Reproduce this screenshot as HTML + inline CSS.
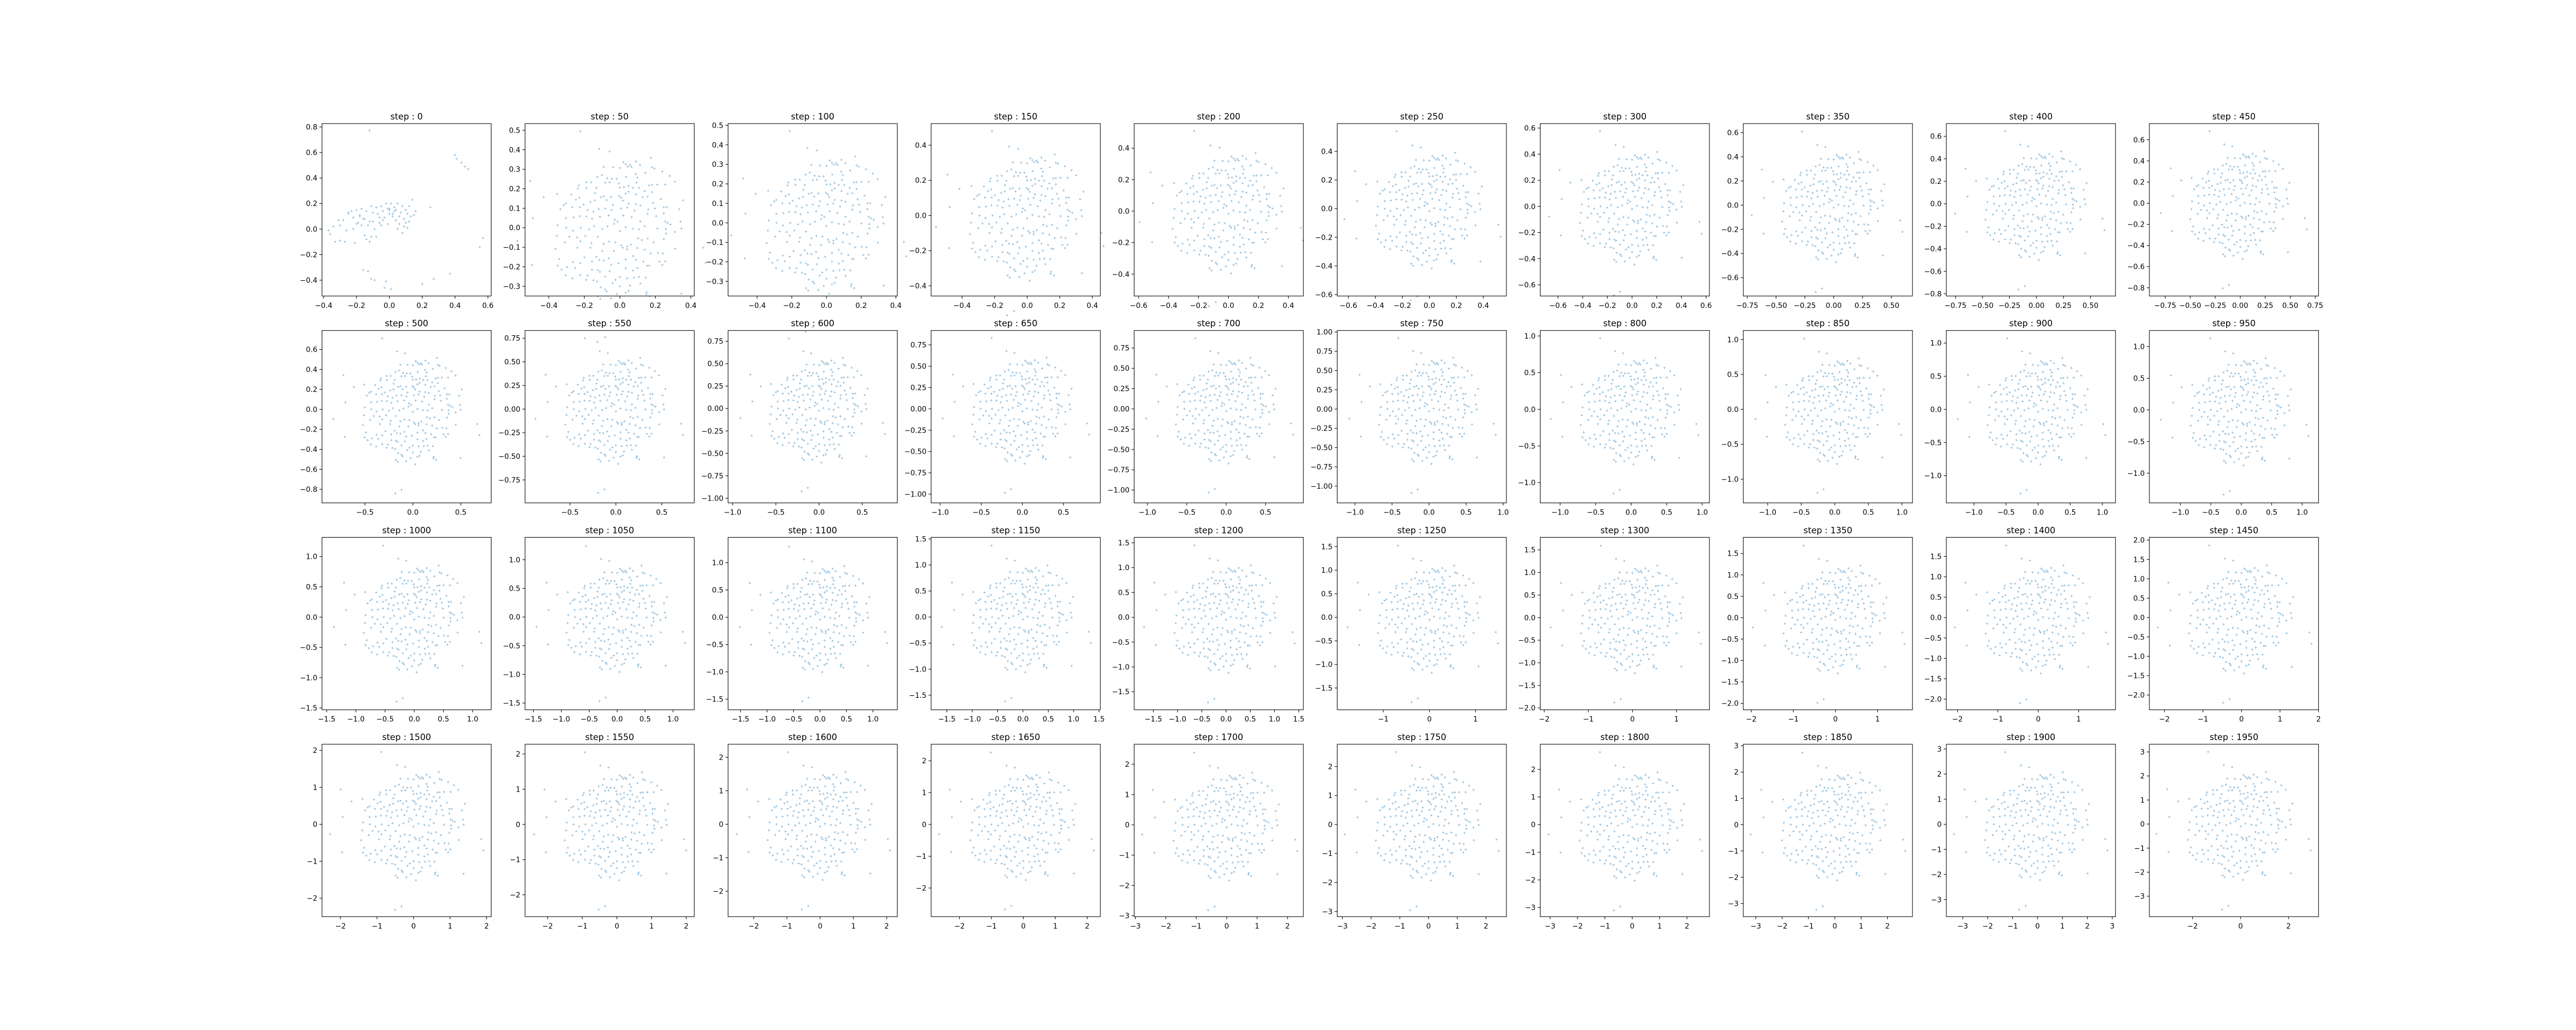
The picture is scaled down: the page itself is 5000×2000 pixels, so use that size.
<!DOCTYPE html>
<html><head><meta charset="utf-8"><style>
html,body{margin:0;padding:0;background:#fff;}
svg{display:block;font-family:"DejaVu Sans","Liberation Sans",sans-serif;}
</style></head><body>
<svg id="fig" width="5000" height="2000" viewBox="0 0 5000 2000" xmlns="http://www.w3.org/2000/svg">
<rect width="5000" height="2000" fill="#fff"/>
</svg>
<script>
const steps = [0,50,100,150,200,250,300,350,400,450,500,550,600,650,700,750,800,850,900,950,1000,1050,1100,1150,1200,1250,1300,1350,1400,1450,1500,1550,1600,1650,1700,1750,1800,1850,1900,1950];
const xlims = [[-0.41,0.62],[-0.534,0.419],[-0.567,0.408],[-0.59,0.449],[-0.63,0.5],[-0.683,0.571],[-0.744,0.627],[-0.784,0.683],[-0.835,0.732],[-0.908,0.783],
[-0.948,0.817],[-0.989,0.853],[-1.053,0.905],[-1.11,0.948],[-1.168,0.979],[-1.24,1.044],[-1.28,1.102],[-1.363,1.157],[-1.43,1.205],[-1.51,1.27],
[-1.58,1.317],[-1.65,1.38],[-1.736,1.46],[-1.81,1.526],[-1.896,1.595],[-2.0,1.67],[-2.09,1.746],[-2.19,1.83],[-2.277,1.914],[-2.39,2.0],
[-2.507,2.127],[-2.65,2.23],[-2.77,2.32],[-2.887,2.41],[-3.04,2.52],[-3.18,2.71],[-3.36,2.82],[-3.475,2.95],[-3.66,3.13],[-3.8,3.25]];
const ylims = [[-0.524,0.826],[-0.35,0.534],[-0.375,0.509],[-0.458,0.523],[-0.539,0.556],[-0.61,0.594],[-0.686,0.634],[-0.752,0.675],[-0.82,0.713],[-0.878,0.753],
[-0.936,0.79],[-0.993,0.832],[-1.052,0.87],[-1.103,0.919],[-1.158,0.966],[-1.218,1.02],[-1.276,1.075],[-1.34,1.13],[-1.41,1.19],[-1.47,1.255],
[-1.53,1.317],[-1.617,1.39],[-1.695,1.465],[-1.78,1.53],[-1.863,1.61],[-1.962,1.697],[-2.04,1.777],[-2.152,1.877],[-2.26,1.967],[-2.38,2.07],
[-2.5,2.167],[-2.62,2.278],[-2.76,2.39],[-2.9,2.52],[-3.03,2.66],[-3.18,2.77],[-3.33,2.91],[-3.5,3.06],[-3.68,3.19],[-3.85,3.32]];
// tick ranges: [start, stop, step, decimals]
const xtickSpec = [[-0.4,0.6,0.2,1],[-0.4,0.4,0.2,1],[-0.4,0.4,0.2,1],[-0.4,0.4,0.2,1],[-0.6,0.4,0.2,1],[-0.6,0.4,0.2,1],[-0.6,0.6,0.2,1],[-0.75,0.5,0.25,2],[-0.75,0.5,0.25,2],[-0.75,0.75,0.25,2],
[-0.5,0.5,0.5,1],[-0.5,0.5,0.5,1],[-1,0.5,0.5,1],[-1,0.5,0.5,1],[-1,0.5,0.5,1],[-1,1,0.5,1],[-1,1,0.5,1],[-1,1,0.5,1],[-1,1,0.5,1],[-1,1,0.5,1],
[-1.5,1,0.5,1],[-1.5,1,0.5,1],[-1.5,1,0.5,1],[-1.5,1.5,0.5,1],[-1.5,1.5,0.5,1],[-1,1,1,0],[-2,1,1,0],[-2,1,1,0],[-2,1,1,0],[-2,2,1,0],
[-2,2,1,0],[-2,2,1,0],[-2,2,1,0],[-2,2,1,0],[-3,2,1,0],[-3,2,1,0],[-3,2,1,0],[-3,2,1,0],[-3,3,1,0],[-2,2,2,0]];
const ytickSpec = [[-0.4,0.8,0.2,1],[-0.3,0.5,0.1,1],[-0.3,0.5,0.1,1],[-0.4,0.4,0.2,1],[-0.4,0.4,0.2,1],[-0.6,0.4,0.2,1],[-0.6,0.6,0.2,1],[-0.6,0.6,0.2,1],[-0.8,0.6,0.2,1],[-0.8,0.6,0.2,1],
[-0.8,0.6,0.2,1],[-0.75,0.75,0.25,2],[-1,0.75,0.25,2],[-1,0.75,0.25,2],[-1,0.75,0.25,2],[-1,1,0.25,2],[-1,1,0.5,1],[-1,1,0.5,1],[-1,1,0.5,1],[-1,1,0.5,1],
[-1.5,1,0.5,1],[-1.5,1,0.5,1],[-1.5,1,0.5,1],[-1.5,1.5,0.5,1],[-1.5,1.5,0.5,1],[-1.5,1.5,0.5,1],[-2,1.5,0.5,1],[-2,1.5,0.5,1],[-2,1.5,0.5,1],[-2,2,0.5,1],
[-2,2,1,0],[-2,2,1,0],[-2,2,1,0],[-2,2,1,0],[-3,2,1,0],[-3,2,1,0],[-3,2,1,0],[-3,3,1,0],[-3,3,1,0],[-3,3,1,0]];
// cloud scale per step (relative to step 1950 cloud)
const cloudScale = [0,0.165,0.157,0.16,0.17,0.18,0.192,0.203,0.215,0.227,0.237,0.25,0.26,0.277,0.29,0.307,0.323,0.337,0.357,0.377,
0.393,0.413,0.433,0.457,0.483,0.507,0.53,0.56,0.59,0.62,0.653,0.683,0.717,0.753,0.793,0.833,0.873,0.913,0.957,1.0];
const baseX = [-1.35,-0.7,-0.35,-3.06,-2.6,-2.97,-3.5,-3.0,2.84,2.93,2.1,-0.5,-0.77,1.06,-2.2,2.16,0.12,0.2,0.35,0.55,0.69,-0.55,-0.23,0.0,0.27,0.4,1.1,1.18,1.45,0.87,0.54,-0.61,-0.77,-0.43,-0.27,-0.11,0.21,0.6,1.7,1.88,-1.15,-0.98,-0.5,-0.35,-0.03,0.57,0.3,0.14,0.0,-0.8,-1.14,-1.4,-1.43,1.0,1.1,1.28,1.55,0.65,0.45,0.3,0.2,0.85,1.1,-0.85,-0.55,-0.3,-0.02,0.05,0.55,0.78,0.95,1.4,-1.66,-1.38,-1.5,-2.14,-1.84,-1.92,-1.24,-1.0,-0.86,-0.65,-0.45,-0.24,0.1,0.3,0.55,0.7,1.14,1.5,1.6,-2.03,-1.62,-1.36,-1.1,-0.9,-0.72,-0.5,-0.28,0.04,0.25,0.5,0.97,1.2,1.5,2.03,-1.84,-1.58,-1.37,-1.14,-0.95,-0.68,-0.38,-0.17,-0.08,0.12,0.4,0.7,0.95,1.24,1.55,1.63,1.73,2.07,-2.12,-1.83,-1.6,-1.33,-1.05,-0.88,-0.6,-0.42,-0.2,0.0,0.2,0.45,0.65,0.85,1.28,1.57,1.88,2.1,-2.15,-1.72,-1.46,-1.35,-1.18,-0.97,-0.75,-0.55,-0.37,-0.15,0.05,0.25,0.37,0.62,0.75,0.95,1.15,1.5,1.58,-1.88,-1.45,-1.21,-1.0,-0.8,-0.6,-0.38,-0.2,0.1,0.25,0.45,0.6,0.85,1.05,1.3,1.47,1.89,-2.07,-1.6,-1.35,-0.95,-0.7,-0.55,-0.3,-0.05,0.2,0.55,0.8,0.93,1.35,1.55,1.45,-2.12,-1.8,-1.53,-0.95,-0.75,-0.35,0.2,0.45,0.6,1.0,-1.99,-1.85,-1.62,-1.35,-1.1,-0.68,-0.5,-0.15,0.0,0.25,0.48,0.65,0.88,-1.15,-0.9,-0.78,-0.65,-0.5,-0.25,0.0,0.35,0.7,-0.45,-0.1,0.2,0.3,0.9,1.02,-0.75,-0.67,-0.3,0.1,0.92];
const baseY = [3.0,2.45,2.37,1.45,0.95,0.3,-0.41,-1.16,-0.62,-1.09,-2.05,-3.4,-3.55,2.17,-0.66,0.85,2.04,1.97,1.95,2.06,1.95,1.89,1.88,1.86,1.9,1.89,1.88,1.84,1.75,1.71,1.67,1.64,1.58,1.54,1.52,1.52,1.58,1.56,1.61,1.43,1.41,1.41,1.4,1.41,1.38,1.4,1.3,1.26,1.25,1.24,1.24,1.32,1.22,1.32,1.33,1.34,1.34,1.24,1.24,1.12,1.06,1.14,1.11,1.08,0.98,0.96,0.98,0.93,1.04,0.95,0.97,0.89,1.03,0.93,0.87,1.05,0.75,0.7,0.72,0.8,0.85,0.95,0.86,0.71,0.84,0.75,0.73,0.69,0.77,0.64,0.64,0.58,0.64,0.64,0.55,0.5,0.58,0.6,0.55,0.6,0.63,0.53,0.57,0.6,0.45,0.58,0.3,0.32,0.36,0.35,0.28,0.34,0.38,0.25,0.19,0.38,0.33,0.2,0.43,0.36,0.2,0.15,0.1,0.19,0.08,0.0,-0.09,0.0,-0.05,0.05,-0.04,0.04,0.12,-0.1,0.02,-0.03,-0.05,0.05,-0.02,-0.04,-0.13,-0.02,-0.25,-0.28,-0.3,-0.42,-0.25,-0.48,-0.28,-0.5,-0.43,-0.45,-0.55,-0.58,-0.52,-0.33,-0.38,-0.33,-0.45,-0.35,-0.18,-0.45,-0.62,-0.92,-0.62,-0.9,-0.72,-0.95,-0.72,-0.62,-0.67,-0.88,-0.63,-0.68,-0.8,-0.78,-0.8,-0.65,-0.97,-1.07,-1.1,-1.05,-1.0,-1.02,-1.15,-1.11,-0.98,-1.0,-1.05,-1.18,-1.05,-1.04,-1.16,-1.18,-1.22,-1.25,-1.3,-1.32,-1.35,-1.26,-1.33,-1.25,-1.18,-1.3,-1.48,-1.57,-1.47,-1.48,-1.37,-1.52,-1.62,-1.53,-1.57,-1.55,-1.53,-1.55,-1.62,-1.63,-1.67,-1.85,-1.92,-1.72,-1.82,-1.79,-1.73,-1.98,-2.06,-2.01,-1.96,-2.07,-2.13,-2.13,-2.21,-2.19,-2.32,-2.0];
const step0X = [-0.12,0.4,0.41,0.44,0.46,0.48,0.57,0.55,-0.16,-0.13,-0.11,-0.09,-0.02,-0.03,0.01,0.2,0.27,0.37,0.25,0.14,
-0.37,-0.36,-0.34,-0.33,-0.31,-0.3,-0.28,-0.27,-0.25,-0.23,-0.22,-0.21,-0.2,-0.19,-0.17,-0.16,-0.15,-0.14,-0.13,-0.12,-0.11,-0.1,-0.09,-0.08,-0.07,-0.06,-0.05,-0.04,-0.03,-0.02,-0.01,0.0,0.01,0.02,0.03,0.04,0.05,0.06,0.07,0.08,0.09,0.1,0.11,0.12,0.13,0.15,0.16,-0.2,-0.18,-0.15,-0.1,-0.05,0.0,0.05,0.1,-0.25,-0.12,0.02,0.08,-0.3,-0.22,-0.08,0.03,0.09,-0.04,-0.14,0.06,-0.18,0.11,0.0,-0.06,0.04,-0.26,-0.17,0.12,0.07,-0.01,-0.11,0.02];
const step0Y = [0.77,0.58,0.55,0.52,0.49,0.47,-0.07,-0.14,-0.32,-0.33,-0.39,-0.4,-0.41,-0.46,-0.47,-0.43,-0.39,-0.35,0.17,0.23,
-0.01,-0.04,0.02,-0.1,0.07,-0.09,0.07,-0.1,0.12,0.14,0.0,-0.11,0.15,0.05,0.16,0.08,-0.05,0.14,0.03,-0.1,0.18,0.13,0.0,0.17,0.12,0.05,0.18,0.14,0.09,0.2,0.04,0.15,0.2,0.12,0.17,0.07,0.2,0.1,0.13,0.18,0.08,0.15,0.12,0.18,0.1,0.11,0.14,0.04,0.1,0.08,0.06,0.03,0.12,0.0,0.05,0.13,0.06,0.1,-0.03,0.03,0.09,-0.06,0.14,0.02,0.07,-0.08,0.04,0.11,0.01,0.16,0.09,0.15,-0.01,0.03,0.06,0.13,0.16,-0.06,0.12];

const svg = document.getElementById('fig');
const NS = 'http://www.w3.org/2000/svg';
const L0 = 625, AW = 328.4, GX = 394.1, T0 = 240, AH = 334.8, GY = 401.7;
function mk(tag, attrs, parent){const e=document.createElementNS(NS,tag);for(const k in attrs)e.setAttribute(k,attrs[k]);parent.appendChild(e);return e;}
function fmt(v,d){const s=Math.abs(v).toFixed(d);return (v< -1e-9?'\u2212':'')+s;}
function tickList(sp){const out=[];const n=Math.round((sp[1]-sp[0])/sp[2]);for(let i=0;i<=n;i++)out.push(+(sp[0]+i*sp[2]).toFixed(4));return out;}

steps.forEach((st,i)=>{
  const r=Math.floor(i/10), c=i%10;
  const x0=L0+c*GX, y0=T0+r*GY;
  const [xa,xb]=xlims[i], [ya,yb]=ylims[i];
  const sx=v=>x0+(v-xa)/(xb-xa)*AW;
  const sy=v=>y0+AH-(v-ya)/(yb-ya)*AH;
  const g=mk('g',{},svg);
  
  
  // points
  let px, py;
  if(i===0){px=step0X;py=step0Y;}else{px=baseX.map(v=>v*cloudScale[i]);py=baseY.map(v=>v*cloudScale[i]);}
  let d='';
  for(let k=0;k<px.length;k++){const X=sx(px[k]),Y=sy(py[k]);d+='M'+(X-2.2).toFixed(1)+' '+Y.toFixed(1)+'h4.4M'+X.toFixed(1)+' '+(Y-2.2).toFixed(1)+'v4.4';}
  const pts=mk('path',{d:d,stroke:'#1f77b4','stroke-opacity':'0.55','stroke-width':'1',fill:'none'},g);
  
  
  // frame
  const fr=mk('rect',{x:x0,y:y0,width:AW,height:AH,fill:'none',stroke:'#000','stroke-width':'1.1'},g);
  
  
  // x ticks
  const xs=xtickSpec[i];
  tickList(xs).forEach(v=>{
    const X=sx(v); if(X<x0-0.5||X>x0+AW+0.5)return;
    mk('line',{x1:X,x2:X,y1:y0+AH,y2:y0+AH+5,stroke:'#000','stroke-width':'1.1'},g);
    const t=mk('text',{x:X,y:y0+AH+23,'font-size':'14','text-anchor':'middle',fill:'#000'},g);
    t.textContent=fmt(v,xs[3]);
    
    
  });
  const ys=ytickSpec[i];
  tickList(ys).forEach(v=>{
    const Y=sy(v); if(Y<y0-0.5||Y>y0+AH+0.5)return;
    mk('line',{x1:x0-5,x2:x0,y1:Y,y2:Y,stroke:'#000','stroke-width':'1.1'},g);
    const t=mk('text',{x:x0-9,y:Y+5,'font-size':'14','text-anchor':'end',fill:'#000'},g);
    t.textContent=fmt(v,ys[3]);
    
    
  });
  const tt=mk('text',{x:x0+AW/2,y:y0-8,'font-size':'16.7','text-anchor':'middle',fill:'#000'},g);
  tt.textContent='step : '+st;
  
  
});
</script>
</body></html>
